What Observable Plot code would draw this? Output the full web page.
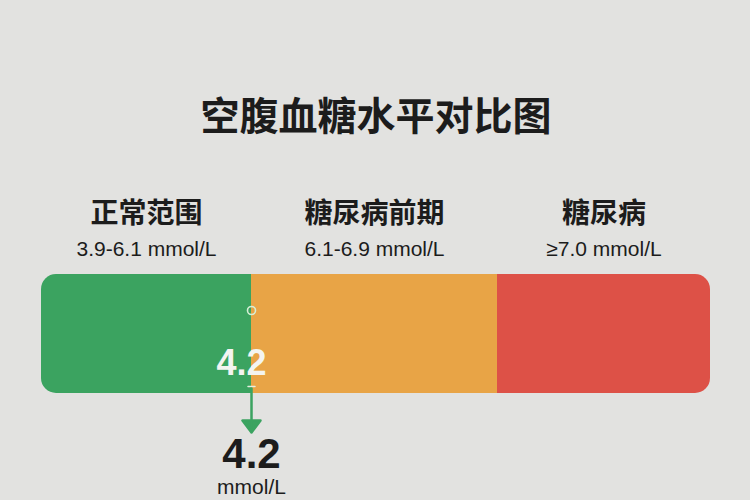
<!DOCTYPE html>
<html>
<head>
<meta charset="utf-8">
<script src="https://cdn.jsdelivr.net/npm/d3@7"></script>
<script src="https://cdn.jsdelivr.net/npm/@observablehq/plot@0.6"></script>
<style>
  html, body { margin: 0; padding: 0; background: #e2e2e0; }
  #chart svg { display: block; }
</style>
</head>
<body>
<div id="chart"></div>
<script>
// ---- data ----
const title = "空腹血糖水平对比图";
const categories = ["正常范围", "糖尿病前期", "糖尿病"];
const rangeLabels = ["3.9-6.1 mmol/L", "6.1-6.9 mmol/L", "≥7.0 mmol/L"];
const lows = [3.9, 6.1, 7.0];
const highs = [6.1, 6.9, 8.0];
const measuredValue = 4.2;
const unit = "mmol/L";

// ---- derived table ----
const segments = categories.map((name, i) => ({
  name,
  range: rangeLabels[i],
  low: lows[i],
  end: i + 1 < lows.length ? lows[i + 1] : highs[i]
}));
const first = segments[0], mid = segments[1], last = segments[segments.length - 1];
// end segments get rounded outer corners; inner edges are covered by the middle one
const endSegments = [
  {name: first.name, x1: first.low, x2: mid.end},
  {name: last.name, x1: mid.low, x2: last.end}
];
// the marker in the reference sits at the upper bound of the normal range
const marker = [{x: first.end, value: measuredValue}];

const green = "#3ba360";
const dark = "#1c1c1c";
const lineShape = {draw(context, l) { context.moveTo(0, 0); context.lineTo(0, -l); }};
const chart = Plot.plot({
  width: 750,
  height: 500,
  marginTop: 274,
  marginBottom: 107,
  marginLeft: 41,
  marginRight: 40,
  style: {background: "transparent", fontFamily: "'Liberation Sans','Noto Sans CJK SC',sans-serif", overflow: "visible"},
  x: {type: "linear", domain: [lows[0], lows[1], lows[2], highs[2]], range: [41, 251, 497, 710], axis: null},
  color: {domain: categories, range: [green, "#e8a446", "#dd5147"]},
  marks: [
    Plot.rect(endSegments, {x1: "x1", x2: "x2", fill: "name", rx: 15}),
    Plot.rect([mid], {x1: "low", x2: "end", fill: "name"}),
    Plot.text([title], {frameAnchor: "top", lineAnchor: "middle", dy: -157, text: d => d, fontSize: 39, fontWeight: "bold", fill: dark}),
    Plot.text(segments, {x: d => (d.low + d.end) / 2, text: "name", frameAnchor: "top", lineAnchor: "middle", dy: -60, fontSize: 28, fontWeight: "bold", fill: dark}),
    Plot.text(segments, {x: d => (d.low + d.end) / 2, text: "range", frameAnchor: "top", lineAnchor: "middle", dy: -25, fontSize: 21, fill: dark}),
    Plot.dot(marker, {x: "x", frameAnchor: "top", dy: 36, r: 4, stroke: "#d6efd6", strokeWidth: 1.6, fill: "none"}),
    Plot.text(marker, {x: "x", text: d => String(d.value), frameAnchor: "top", lineAnchor: "middle", dy: 89, dx: -10, fontSize: 36, fontWeight: "bold", fill: "#f4f4f0"}),
    Plot.vector(marker, {x: "x", frameAnchor: "bottom", dy: -7, length: 7, rotate: 90, anchor: "middle", stroke: "#e6efe0", strokeWidth: 1.5, shape: lineShape}),
    Plot.vector(marker, {
      x: "x", frameAnchor: "bottom", dy: -5, length: 44, rotate: 180, anchor: "start",
      stroke: green, fill: green, strokeWidth: 2.5,
      shape: {draw(context, l) {
        context.moveTo(0, 0); context.lineTo(0, -l);
        context.moveTo(-9, -l + 12); context.lineTo(0, -l); context.lineTo(9, -l + 12); context.closePath();
      }}
    }),
    Plot.text(marker, {x: "x", text: d => String(d.value), frameAnchor: "bottom", lineAnchor: "middle", dy: 61, fontSize: 42, fontWeight: "bold", fill: dark}),
    Plot.text(marker, {x: "x", text: () => unit, frameAnchor: "bottom", lineAnchor: "middle", dy: 94, fontSize: 21, fill: dark})
  ]
});
document.getElementById("chart").appendChild(chart);
</script>
</body>
</html>
